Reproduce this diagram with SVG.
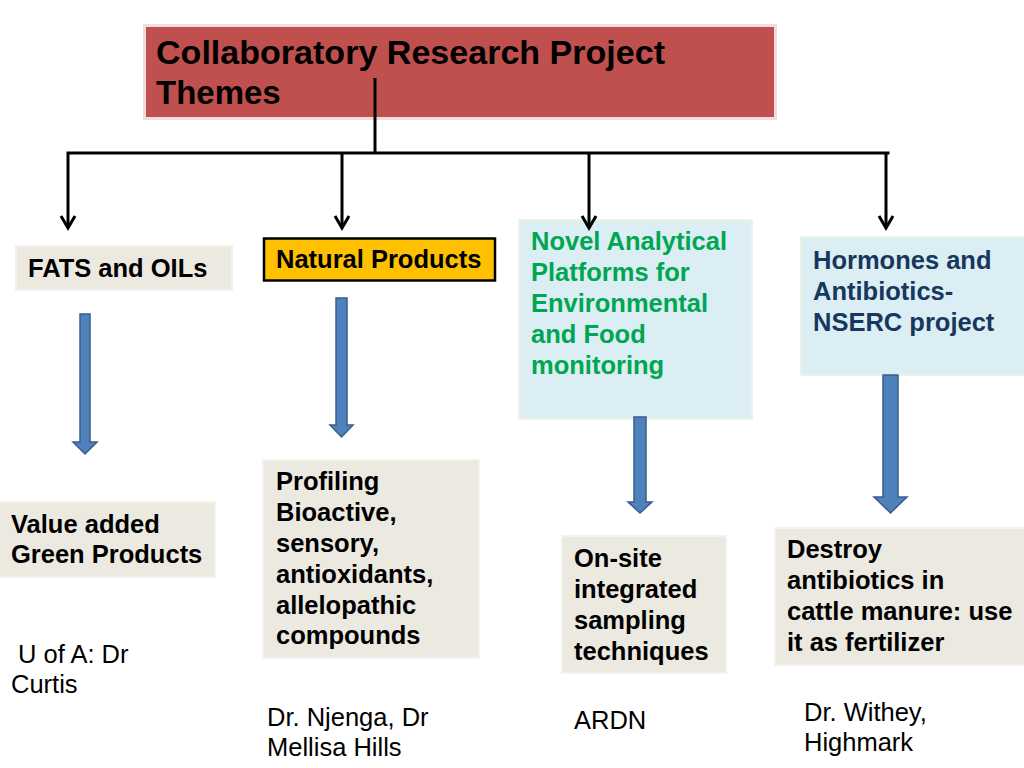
<svg xmlns="http://www.w3.org/2000/svg" width="1024" height="768" viewBox="0 0 1024 768">
<style>
text{font-family:"Liberation Sans",Arial,sans-serif;font-size:25.5px;fill:#000}
.b{font-weight:bold}
.beige{fill:#ebe9e0;stroke:#f4f2ec;stroke-width:2}
.blue{fill:#dbeef4;stroke:#eef0ea;stroke-width:2}
.conn{fill:none;stroke:#000;stroke-width:3}
.head{fill:none;stroke:#000;stroke-width:3;stroke-linejoin:miter}
.blk{fill:#4f81bd;stroke:#385d8a;stroke-width:1.5}
</style>
<rect width="1024" height="768" fill="#fff"/>
<g id="title">
<rect x="144.5" y="25.5" width="631" height="93" fill="#c0504d" stroke="#f2dcdb" stroke-width="3"/>
<text class="b" x="156" y="64" style="font-size:33px" textLength="509" lengthAdjust="spacingAndGlyphs">Collaboratory Research Project</text>
<text class="b" x="156" y="104" style="font-size:33px">Themes</text>
</g>
<g id="fats">
<rect class="beige" x="16" y="246" width="216" height="44"/>
<text class="b" x="28" y="277">FATS and OILs</text>
</g>
<g id="natural">
<rect x="264" y="238.5" width="231" height="42" fill="#ffc000" stroke="#000" stroke-width="2.5"/>
<text class="b" x="276" y="268">Natural Products</text>
</g>
<g id="novel">
<rect class="blue" x="519" y="220" width="233" height="199"/>
<text class="b" style="fill:#00a651"><tspan x="531" y="250">Novel Analytical</tspan><tspan x="531" y="281">Platforms for</tspan><tspan x="531" y="312">Environmental</tspan><tspan x="531" y="343">and Food</tspan><tspan x="531" y="374">monitoring</tspan></text>
</g>
<g id="hormones">
<rect class="blue" x="801" y="237" width="224" height="138"/>
<text class="b" style="fill:#17375e"><tspan x="813" y="269">Hormones and</tspan><tspan x="813" y="300">Antibiotics-</tspan><tspan x="813" y="331">NSERC project</tspan></text>
</g>
<g id="value">
<rect class="beige" x="-2" y="502" width="217" height="75"/>
<text class="b"><tspan x="11" y="533">Value added</tspan><tspan x="11" y="563">Green Products</tspan></text>
</g>
<g id="profiling">
<rect class="beige" x="263" y="460" width="216" height="198"/>
<text class="b"><tspan x="276" y="490">Profiling</tspan><tspan x="276" y="521">Bioactive,</tspan><tspan x="276" y="552">sensory,</tspan><tspan x="276" y="583">antioxidants,</tspan><tspan x="276" y="614">allelopathic</tspan><tspan x="276" y="644">compounds</tspan></text>
</g>
<g id="onsite">
<rect class="beige" x="562" y="536" width="164" height="137"/>
<text class="b"><tspan x="574" y="567">On-site</tspan><tspan x="574" y="598">integrated</tspan><tspan x="574" y="629">sampling</tspan><tspan x="574" y="660">techniques</tspan></text>
</g>
<g id="destroy">
<rect class="beige" x="775" y="528" width="250" height="137"/>
<text class="b"><tspan x="787" y="558">Destroy</tspan><tspan x="787" y="589">antibiotics in</tspan><tspan x="787" y="620">cattle manure: use</tspan><tspan x="787" y="651">it as fertilizer</tspan></text>
</g>
<g id="labels">
<text><tspan x="18" y="663">U of A: Dr</tspan><tspan x="11" y="693">Curtis</tspan></text>
<text><tspan x="267" y="726">Dr. Njenga, Dr</tspan><tspan x="267" y="756">Mellisa Hills</tspan></text>
<text x="574" y="729">ARDN</text>
<text><tspan x="804" y="721">Dr. Withey,</tspan><tspan x="804" y="751">Highmark</tspan></text>
</g>
<g id="connectors">
<path class="conn" d="M375 78V153M66.5 153H889.5M68 153V228M342 153V228M589 153V228M886 153V228"/>
<path class="head" d="M61 216L68 228L75 216M335 216L342 228L349 216M582 216L589 228L596 216M879 216L886 228L893 216"/>
<path class="blk" d="M80 314H90V442H97L85 454L73 442H80Z"/>
<path class="blk" d="M336 298H347V425H353L341.5 437L330 425H336Z"/>
<path class="blk" d="M634 417H646V502H652L640 513L628 502H634Z"/>
<path class="blk" d="M883 375H898V497H907L890.5 513L874 497H883Z"/>
</g>
</svg>
